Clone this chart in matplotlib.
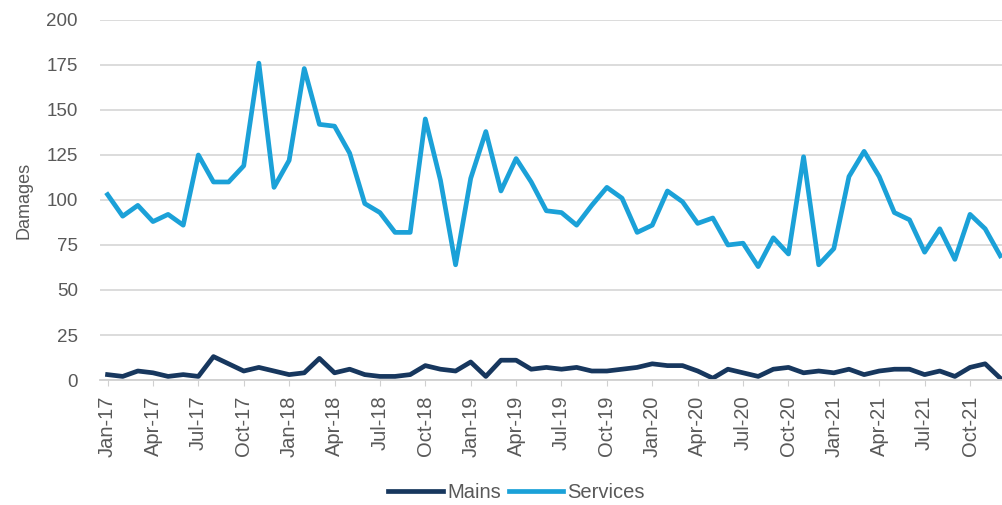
import matplotlib
matplotlib.use("Agg")
import matplotlib.pyplot as plt
import numpy as np

plt.rcParams["font.family"] = ["Liberation Sans", "DejaVu Sans"]

years = ["17", "18", "19", "20", "21"]
month_names = ["Jan", "Feb", "Mar", "Apr", "May", "Jun",
               "Jul", "Aug", "Sep", "Oct", "Nov", "Dec"]
months = [f"{m}-{y}" for y in years for m in month_names]

mains = [3, 2, 5, 4, 2, 3, 2, 13, 9, 5, 7, 5,
         3, 4, 12, 4, 6, 3, 2, 2, 3, 8, 6, 5,
         10, 2, 11, 11, 6, 7, 6, 7, 5, 5, 6, 7,
         9, 8, 8, 5, 1, 6, 4, 2, 6, 7, 4, 5,
         4, 6, 3, 5, 6, 6, 3, 5, 2, 7, 9, 1]

services = [103, 91, 97, 88, 92, 86, 125, 110, 110, 119, 176, 107,
            122, 173, 142, 141, 126, 98, 93, 82, 82, 145, 111, 64,
            112, 138, 105, 123, 110, 94, 93, 86, 97, 107, 101, 82,
            86, 105, 99, 87, 90, 75, 76, 63, 79, 70, 124, 64,
            73, 113, 127, 113, 93, 89, 71, 84, 67, 92, 84, 69]

fig = plt.figure(figsize=(10.03, 5.05), dpi=100)
ax = fig.add_axes([0.0997, 0.2475, 0.9003, 0.713])

x = np.arange(len(months))
ax.plot(x, mains, color="#17375e", lw=3.4, label="Mains", solid_joinstyle="round")
ax.plot(x, services, color="#1ba1d8", lw=3.4, label="Services", solid_joinstyle="round")

ax.set_ylim(0, 200)
ax.set_yticks(range(0, 201, 25))
ax.set_xlim(-0.5, 59.18)
ax.set_xticks(x[::3])
ax.set_xticklabels(months[::3], rotation=90)

ax.grid(axis="y", color="#d9d9d9", lw=1.3)
ax.set_axisbelow(True)
for s in ["top", "right", "left"]:
    ax.spines[s].set_visible(False)
ax.spines["bottom"].set_color("#d0d0d0")
ax.spines["bottom"].set_linewidth(1.3)
ax.tick_params(axis="y", length=0, pad=16, labelsize=13.5, labelcolor="#595959")
ax.tick_params(axis="x", length=4, color="#d0d0d0", labelsize=14.5, labelcolor="#595959", pad=7)

ax.set_ylabel("Damages", fontsize=13, color="#595959", labelpad=10)

fig.legend(loc="lower center", bbox_to_anchor=(0.515, -0.03), ncol=2, frameon=False,
           fontsize=14.5, handlelength=2.7, handletextpad=0.2, columnspacing=0.4,
           labelcolor="#595959")

fig.savefig("out.png", dpi=100)
